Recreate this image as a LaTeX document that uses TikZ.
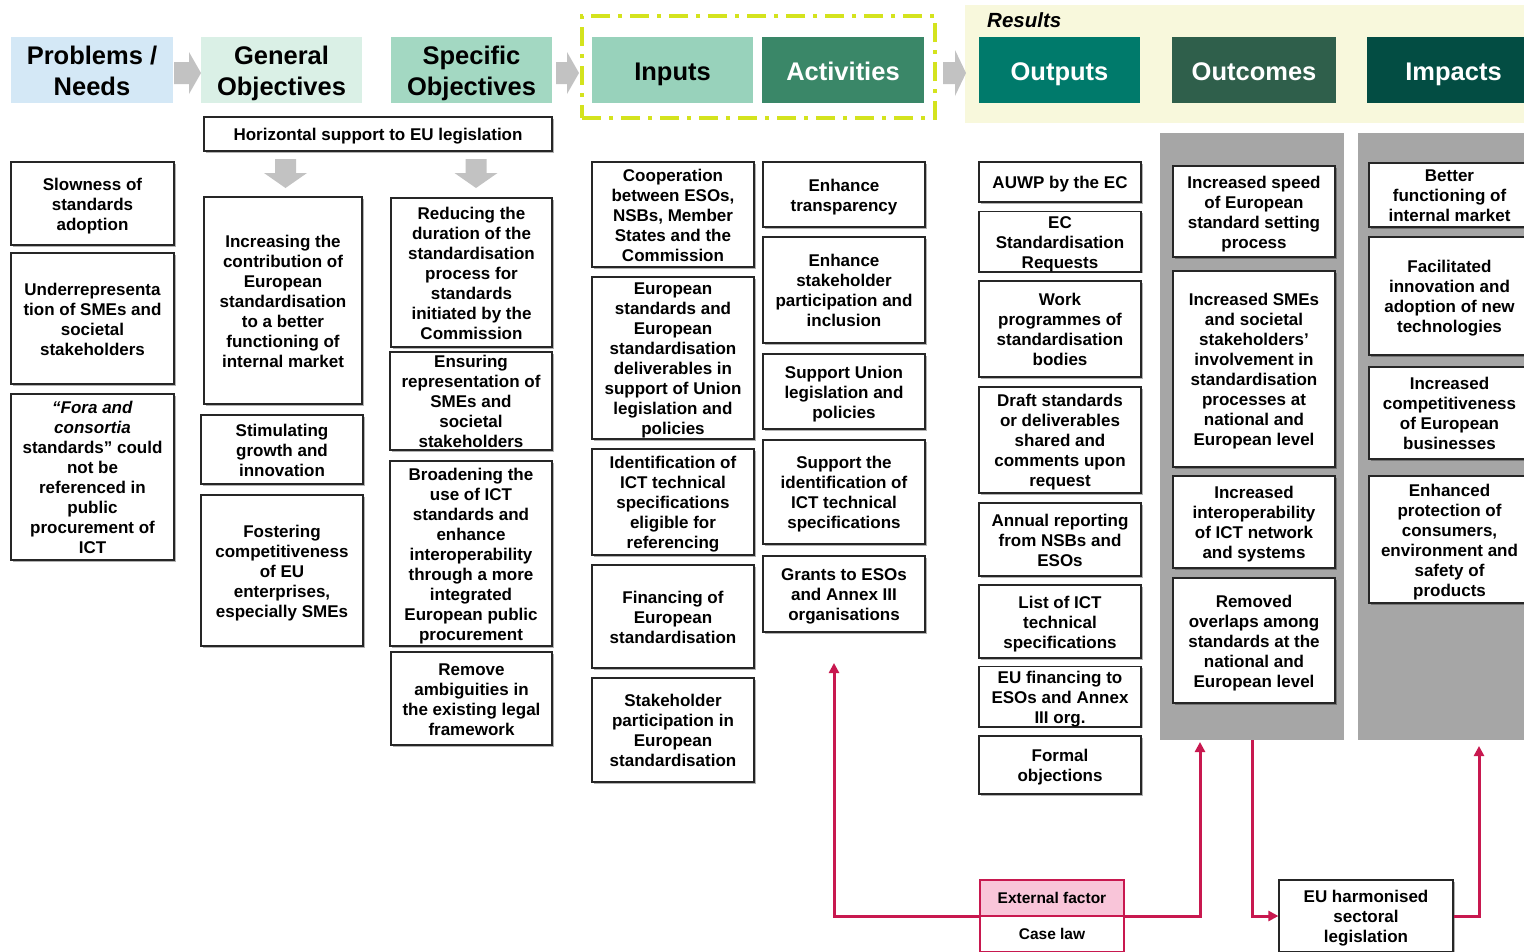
\documentclass[tikz,border=0pt]{standalone}
\usepackage{fontspec}
\setmainfont{Liberation Sans}
\usetikzlibrary{shadows,arrows.meta,calc}
\definecolor{probC}{HTML}{D4E8F6}
\definecolor{genC}{HTML}{DAF0E6}
\definecolor{specC}{HTML}{A3D8C2}
\definecolor{inpC}{HTML}{98D2BB}
\definecolor{actC}{HTML}{3A8768}
\definecolor{outpC}{HTML}{007A6B}
\definecolor{outcC}{HTML}{2F5F4B}
\definecolor{impC}{HTML}{034D43}
\definecolor{resC}{HTML}{F8F8DC}
\definecolor{colgray}{HTML}{A6A6A6}
\definecolor{arrgray}{HTML}{C2C2C2}
\definecolor{dashC}{HTML}{D4E31D}
\definecolor{crim}{HTML}{C8184F}
\definecolor{pinkC}{HTML}{F9C5D9}
\def\topS{0pt}\def\botS{0pt}
\newcommand\place[7]{\node[#1,minimum width={(#5-#3)*1pt},minimum height={(#6-#4)*1pt}] (#2) at ({(#3+#5)/2},{(#4+#6)/2}) {\rule{0pt}{\topS}#7\rule[-\botS]{0pt}{\botS}};}
\tikzset{
  box/.style={draw=black!85, line width=1.2pt, fill=white, inner sep=0pt, align=center,
    font=\fontsize{17}{20}\selectfont\bfseries,
    execute at begin node={\def\topS{17pt}\def\botS{3.8pt}},
    drop shadow={shadow xshift=1.5pt, shadow yshift=-1.5pt, opacity=0.3, fill=black}},
  tightbox/.style={box, execute at begin node={\def\topS{15.5pt}\def\botS{2.3pt}}},
  head/.style={inner sep=0pt, align=center, font=\fontsize{25.5}{31}\selectfont\bfseries,
    execute at begin node={\def\topS{26pt}\def\botS{5.8pt}}},
  colbg/.style={fill=colgray, inner sep=0pt},
  grp/.style={draw=dashC, line width=4.8pt, dash pattern=on 19pt off 8pt on 4pt off 8pt, inner sep=0pt},
  extbox/.style={draw=crim, line width=1.4pt, inner sep=0pt, align=center, font=\fontsize{15.5}{19}\selectfont\bfseries,
    execute at begin node={\def\topS{15pt}\def\botS{5pt}}},
  link/.style={draw=crim, line width=3pt, -{Triangle[length=10pt,width=10pt]}},
  blockarrow/.style={fill=arrgray}
}
\begin{document}
\begin{tikzpicture}[x=1pt,y=-1pt]
\useasboundingbox (0,0) rectangle (1524,951);
\fill[white] (0,0) rectangle (1524,951);
\clip (0,0) rectangle (1524,951);

% results background
\place{fill=resC, inner sep=0pt}{resbg}{965}{5}{1530}{123}{}
\node[anchor=west, inner sep=0pt, font=\fontsize{20.5}{24}\selectfont\bfseries\itshape] (res) at (987,20) {Results};

% header boxes
\place{head, fill=probC}{hP}{11}{37}{173}{103}{Problems /\\Needs}
\place{head, fill=genC}{hG}{201}{37}{362}{103}{General\\Objectives}
\place{head, fill=specC}{hS}{391}{37}{552}{103}{Specific\\Objectives}
\place{head, fill=inpC}{hI}{592}{37}{753}{103}{Inputs}
\place{head, fill=actC, text=white}{hA}{762}{37}{924}{103}{Activities}
\place{head, fill=outpC, text=white}{hO}{979}{37}{1140}{103}{Outputs}
\place{head, fill=outcC, text=white}{hU}{1172}{37}{1336}{103}{Outcomes}
\place{head, fill=impC, text=white}{hM}{1367}{37}{1540}{103}{Impacts}
\place{grp}{grpbox}{582}{16}{935}{118}{}

% gray block arrows
\fill[blockarrow] (174,62) -- (189,62) -- (189,52) -- (201,73) -- (189,94) -- (189,84) -- (174,84) -- cycle;
\fill[blockarrow] (556,62) -- (567,62) -- (567,52) -- (579,73) -- (567,94) -- (567,84) -- (556,84) -- cycle;
\fill[blockarrow] (943,62) -- (955,62) -- (955,50) -- (966,73) -- (955,96) -- (955,84) -- (943,84) -- cycle;
\fill[blockarrow] (275,159) -- (296,159) -- (296,173) -- (307,173) -- (285.5,188) -- (264,173) -- (275,173) -- cycle;
\fill[blockarrow] (465.5,159) -- (486.5,159) -- (486.5,173) -- (497.5,173) -- (476,188) -- (454.5,173) -- (465.5,173) -- cycle;

% gray columns
\place{colbg}{outcCol}{1160}{133}{1344}{740}{}
\place{colbg}{impCol}{1358}{133}{1540}{740}{}

% problems
\place{box}{p1}{11}{162}{174}{245}{Slowness of\\standards\\adoption}
\place{box}{p2}{11}{253}{174}{384}{Underrepresenta\\tion of SMEs and\\societal\\stakeholders}
\place{box}{p3}{11}{394}{174}{560}{\textit{“Fora and}\\\textit{consortia}\\standards” could\\not be\\referenced in\\public\\procurement of\\ICT}

% general objectives
\place{box}{hs}{204}{117}{552}{151}{Horizontal support to EU legislation}
\place{box}{g1}{204}{197}{362}{404}{Increasing the\\contribution of\\European\\standardisation\\to a better\\functioning of\\internal market}
\place{box}{g2}{201}{415}{363}{484}{Stimulating\\growth and\\innovation}
\place{box}{g3}{201}{495}{363}{646}{Fostering\\competitiveness\\of EU\\enterprises,\\especially SMEs}

% specific objectives
\place{box}{s1}{391}{198}{552}{347}{Reducing the\\duration of the\\standardisation\\process for\\standards\\initiated by the\\Commission}
\place{tightbox}{s2}{390}{352}{552}{450}{Ensuring\\representation of\\SMEs and\\societal\\stakeholders}
\place{box}{s3}{390}{461}{552}{646}{Broadening the\\use of ICT\\standards and\\enhance\\interoperability\\through a more\\integrated\\European public\\procurement}
\place{box}{s4}{391}{652}{552}{745}{Remove\\ambiguities in\\the existing legal\\framework}

% inputs
\place{box}{i1}{592}{162}{754}{267}{Cooperation\\between ESOs,\\NSBs, Member\\States and the\\Commission}
\place{box}{i2}{592}{277}{754}{439}{European\\standards and\\European\\standardisation\\deliverables in\\support of Union\\legislation and\\policies}
\place{box}{i3}{592}{449}{754}{555}{Identification of\\ICT technical\\specifications\\eligible for\\referencing}
\place{box}{i4}{592}{565}{754}{668}{Financing of\\European\\standardisation}
\place{box}{i5}{592}{678}{754}{782}{Stakeholder\\participation in\\European\\standardisation}

% activities
\place{box}{a1}{763}{162}{925}{227}{Enhance\\transparency}
\place{box}{a2}{763}{237}{925}{343}{Enhance\\stakeholder\\participation and\\inclusion}
\place{box}{a3}{763}{354}{925}{429}{Support Union\\legislation and\\policies}
\place{box}{a4}{763}{440}{925}{544}{Support the\\identification of\\ICT technical\\specifications}
\place{box}{a5}{763}{556}{925}{632}{Grants to ESOs\\and Annex III\\organisations}

% outputs
\place{box}{o1}{979}{162}{1141}{202}{AUWP by the EC}
\place{box}{o2}{979}{212}{1141}{271}{EC\\Standardisation\\Requests}
\place{box}{o3}{979}{281}{1141}{377}{Work\\programmes of\\standardisation\\bodies}
\place{box}{o4}{979}{387}{1141}{493}{Draft standards\\or deliverables\\shared and\\comments upon\\request}
\place{box}{o5}{979}{503}{1141}{576}{Annual reporting\\from NSBs and\\ESOs}
\place{box}{o6}{979}{585}{1141}{658}{List of ICT\\technical\\specifications}
\place{box}{o7}{979}{667}{1141}{726}{EU financing to\\ESOs and Annex\\III org.}
\place{box}{o8}{979}{736}{1141}{794}{Formal\\objections}

% outcomes
\place{box}{u1}{1173}{166}{1335}{257}{Increased speed\\of European\\standard setting\\process}
\place{box}{u2}{1173}{271}{1335}{467}{Increased SMEs\\and societal\\stakeholders’\\involvement in\\standardisation\\processes at\\national and\\European level}
\place{box}{u3}{1173}{476}{1335}{568}{Increased\\interoperability\\of ICT network\\and systems}
\place{box}{u4}{1173}{578}{1335}{703}{Removed\\overlaps among\\standards at the\\national and\\European level}

% impacts
\place{box}{m1}{1369}{163}{1530}{227}{Better\\functioning of\\internal market}
\place{box}{m2}{1369}{237}{1530}{355}{Facilitated\\innovation and\\adoption of new\\technologies}
\place{box}{m3}{1369}{367}{1530}{459}{Increased\\competitiveness\\of European\\businesses}
\place{box}{m4}{1369}{476}{1530}{603}{Enhanced\\protection of\\consumers,\\environment and\\safety of\\products}

% external factor
\place{extbox, fill=pinkC}{ext}{980}{880}{1124}{916}{External factor}
\place{extbox, fill=white}{cl}{980}{916}{1124}{952}{Case law}
\place{box}{harm}{1279}{880}{1453}{952}{EU harmonised\\sectoral\\legislation}

% connectors
\coordinate (tipA) at (834,663);
\coordinate (tipB) at (1200,742);
\coordinate (srcC) at (1252,740);
\coordinate (tipD) at (1479,746);
\draw[link] (ext.south west) -| (tipA);
\draw[link] (ext.south east) -| (tipB);
\draw[link] (srcC) |- (harm.west);
\draw[link] (harm.east) -| (tipD);
\end{tikzpicture}
\end{document}
